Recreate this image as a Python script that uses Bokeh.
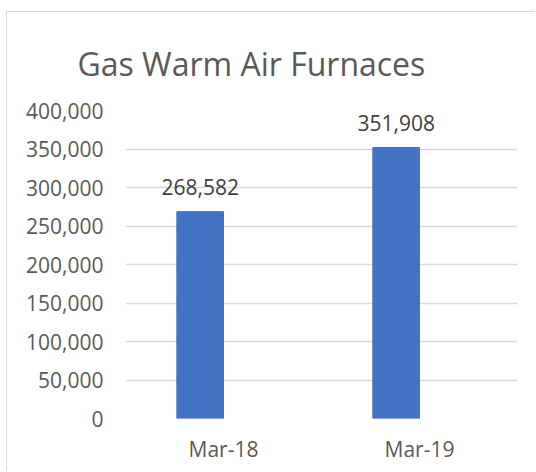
from bokeh.plotting import figure
from bokeh.models import FactorRange, Range1d, ColumnDataSource, FixedTicker, NumeralTickFormatter, Title
from bokeh.transform import dodge
from bokeh.embed import file_html
from bokeh.resources import INLINE

categories = ["Mar-18", "Mar-19"]
values = [268582, 351908]
y_ticks = [0, 50000, 100000, 150000, 200000, 250000, 300000, 350000, 400000]
title_text = "Gas Warm Air Furnaces"

FONT = "Open Sans"
TXT = "#595959"

src = ColumnDataSource(dict(cat=categories, val=values,
                            lab=["{:,}".format(v) for v in values]))

W, H = 529, 460
p = figure(x_range=FactorRange(factors=categories), y_range=Range1d(0, 400000),
           width=W, height=H, output_backend="svg", toolbar_location=None,
           min_border_left=118, min_border_right=19, min_border_top=98,
           min_border_bottom=54, margin=(11, 0, 0, 6),
           styles={"border-top": "1px solid #d9d9d9", "border-left": "1px solid #d9d9d9"})
p.outline_line_color = None
p.background_fill_color = "white"
p.border_fill_color = "white"

p.vbar(x=dodge("cat", -0.119, range=p.x_range), top="val", width=0.238,
       color="#4472C4", source=src)
p.text(x=dodge("cat", -0.119, range=p.x_range), y="val", text="lab", source=src,
       text_align="center", text_baseline="alphabetic", y_offset=-25,
       text_font={"value": FONT}, text_font_size="21px", text_color="#404040")

p.xgrid.grid_line_color = None
p.ygrid.grid_line_color = "#d9d9d9"
p.ygrid.grid_line_width = 1.3
p.yaxis.ticker = FixedTicker(ticks=y_ticks)
p.yaxis.formatter = NumeralTickFormatter(format="0,0")
for ax in (p.xaxis[0], p.yaxis[0]):
    ax.axis_line_color = None
    ax.major_tick_line_color = None
    ax.minor_tick_line_color = None
    ax.major_tick_out = 0
    ax.major_tick_in = 0
    ax.minor_tick_out = 0
    ax.minor_tick_in = 0
    ax.major_label_text_font = FONT
    ax.major_label_text_font_size = "21px"
    ax.major_label_text_color = TXT
p.yaxis.major_label_standoff = 22
p.xaxis.major_label_standoff = 16

p.add_layout(Title(text=title_text, align="left", offset=-48, standoff=52,
                   text_font=FONT, text_font_size="32px", text_color=TXT,
                   text_font_style="normal"), "above")

open("out.html", "w").write(file_html(p, INLINE))
